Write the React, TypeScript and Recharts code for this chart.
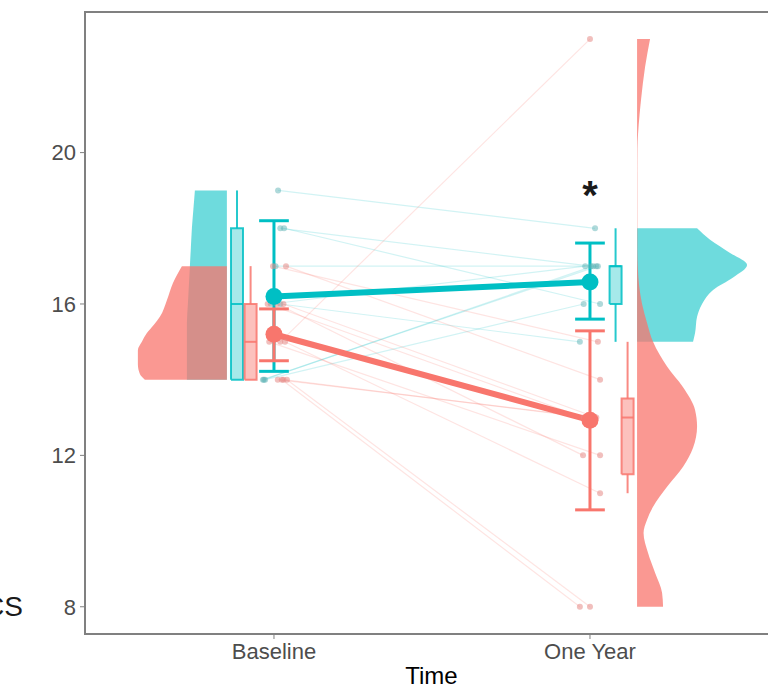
import React from "react";
import {
  ComposedChart,
  XAxis,
  YAxis,
  Area,
  Line,
  Scatter,
  ReferenceArea,
  ReferenceDot,
} from "recharts";

const FONT = "'Liberation Sans', Arial, Helvetica, sans-serif";
const TEAL = "#00BFC4";
const RED = "#F8766D";
const TEAL_DOT = "#5fb3b6";
const RED_DOT = "#e58a86";
const AXIS_GREY = "#808080";

const timeLabels = ["Baseline", "One Year"];
const timePositions = [1, 2];
const yTicks = [8, 12, 16, 20];

// individual scores (baseline -> one year), one entry per subject
const tealBaseline = [19, 18, 18, 17, 16, 16, 14, 14, 14];
const tealOneYear = [18, 16, 17, 17, 17, 15, 17, 16, 17];
const tealJitterBaseline = [0.013, 0.032, 0.02, 0.005, -0.01, 0.02, -0.035, -0.028, -0.032];
const tealJitterOneYear = [0.016, 0.032, 0.003, 0.02, -0.015, -0.032, 0.025, -0.02, 0.01];

const redBaseline = [15, 17, 17, 16, 16, 16, 15, 15, 14, 14, 14, 14];
const redOneYear = [23, 15, 14, 13, 12, 13, 12, 11, 13, 8, 8, 13];
const redJitterBaseline = [0.02, -0.003, 0.038, -0.02, 0.01, 0.03, -0.015, 0.035, 0.012, 0.025, 0.041, 0.03];
const redJitterOneYear = [0, 0.025, 0.032, -0.02, -0.022, 0.02, 0.032, 0.032, 0.01, -0.032, 0, -0.01];

// group means with error bars, [baseline, one year]
const tealMean = [16.2, 16.58];
const tealLow = [14.22, 15.6];
const tealHigh = [18.2, 17.61];
const redMean = [15.2, 12.93];
const redLow = [14.5, 10.56];
const redHigh = [15.87, 15.29];

// boxplot stats [min, q1, median, q3, max]
const tealBox = [
  [14, 14, 16, 18, 19],
  [15, 16, 17, 17, 18],
];
const redBox = [
  [14, 14, 15, 16, 17],
  [11, 11.5, 13, 13.5, 15],
];

// half-violin densities [score, density]
const tealDensityBaseline = [
  [14, 0.4], [14.5, 0.4], [15, 0.4], [15.5, 0.4], [16, 0.39], [16.5, 0.38],
  [17, 0.37], [17.5, 0.36], [18, 0.35], [18.5, 0.335], [19, 0.32],
];
const redDensityBaseline = [
  [14, 0.82], [14.15, 0.87], [14.4, 0.89], [14.78, 0.89], [15, 0.85], [15.23, 0.8],
  [15.45, 0.73], [15.66, 0.67], [16.1, 0.6], [16.55, 0.54], [17, 0.45],
];
const tealDensityOneYear = [
  [15, 0.56], [15.23, 0.58], [15.66, 0.6], [16, 0.65], [16.37, 0.76], [16.7, 0.96],
  [17.03, 1.1], [17.35, 0.93], [17.7, 0.73], [18, 0.6],
];
const redDensityOneYear = [
  [8, 0.26], [8.37, 0.25], [8.9, 0.18], [9.42, 0.11], [9.95, 0.065], [10.3, 0.1],
  [10.64, 0.16], [11.17, 0.3], [11.7, 0.46], [12.2, 0.56], [12.76, 0.6], [13.2, 0.58],
  [13.8, 0.46], [14.35, 0.3], [15, 0.16], [15.5, 0.1], [16, 0.05], [16.5, 0.02],
  [17, 0.007], [17.5, 0.003], [18.5, 0.003], [19.5, 0.003], [20.1, 0.004], [20.5, 0.01],
  [21, 0.025], [21.4, 0.04], [22.26, 0.08], [23, 0.13],
];

// layout (x units)
const X_DOMAIN: [number, number] = [0.402, 2.595];
const Y_DOMAIN: [number, number] = [7.28, 23.715];
const VIOLIN_EDGE = [0.851, 2.149];
const DENSITY_SCALE = 100 / 316;
const TEAL_BOX_X = [0.883, 2.081];
const RED_BOX_X = [0.926, 2.119];
const BOX_HALF = 0.019;
const CAP_HALF = 0.047;

type Pt = { x: number; y: number };
const seg = (x1: number, y1: number, x2: number, y2: number): Pt[] => [
  { x: x1, y: y1 },
  { x: x2, y: y2 },
];

const subjectLines = (b: number[], o: number[], jb: number[], jo: number[]) =>
  b.map((v, i) => seg(timePositions[0] + jb[i], v, timePositions[1] + jo[i], o[i]));

const subjectDots = (b: number[], o: number[], jb: number[], jo: number[]) => [
  ...b.map((v, i) => ({ x: timePositions[0] + jb[i], y: v })),
  ...o.map((v, i) => ({ x: timePositions[1] + jo[i], y: v })),
];

const violin = (density: number[][], edge: number, side: number) =>
  density.map(([y, d]) => ({
    y,
    band: side < 0 ? [edge - d * DENSITY_SCALE, edge] : [edge, edge + d * DENSITY_SCALE],
  }));

const boxFill = (s: number[], cx: number) => [
  { y: s[1], band: [cx - BOX_HALF, cx + BOX_HALF] },
  { y: s[3], band: [cx - BOX_HALF, cx + BOX_HALF] },
];

const boxLines = (s: number[], cx: number): Pt[][] => [
  [
    { x: cx - BOX_HALF, y: s[1] },
    { x: cx + BOX_HALF, y: s[1] },
    { x: cx + BOX_HALF, y: s[3] },
    { x: cx - BOX_HALF, y: s[3] },
    { x: cx - BOX_HALF, y: s[1] },
  ],
  seg(cx, s[0], cx, s[1]),
  seg(cx, s[3], cx, s[4]),
  seg(cx - BOX_HALF, s[2], cx + BOX_HALF, s[2]),
];

const errorLines = (low: number[], high: number[]): Pt[][] =>
  timePositions.flatMap((x, i) => [
    seg(x, low[i], x, high[i]),
    seg(x - CAP_HALF, low[i], x + CAP_HALF, low[i]),
    seg(x - CAP_HALF, high[i], x + CAP_HALF, high[i]),
  ]);

const meanPoints = (m: number[]) => timePositions.map((x, i) => ({ x, y: m[i] }));

const dotShape = (color: string, r: number, opacity: number) => (p: any) =>
  <circle cx={p.cx} cy={p.cy} r={r} fill={color} fillOpacity={opacity} />;

const segLine = (data: Pt[], key: string, color: string, width: number, opacity = 1) => (
  <Line
    key={key}
    data={data}
    dataKey="x"
    type="linear"
    stroke={color}
    strokeWidth={width}
    strokeOpacity={opacity}
    dot={false}
    activeDot={false}
    isAnimationActive={false}
  />
);

export default function App() {
  const tealLines = subjectLines(tealBaseline, tealOneYear, tealJitterBaseline, tealJitterOneYear);
  const redLines = subjectLines(redBaseline, redOneYear, redJitterBaseline, redJitterOneYear);

  return (
    <div
      style={{
        position: "absolute",
        left: 0,
        top: 0,
        width: 768,
        height: 689,
        overflow: "hidden",
        background: "#fff",
        fontFamily: FONT,
      }}
    >
      <ComposedChart
        width={783}
        height={689}
        layout="vertical"
        margin={{ top: 12, right: 5, bottom: 0, left: 0 }}
      >
        <XAxis
          type="number"
          dataKey="x"
          domain={X_DOMAIN}
          allowDataOverflow
          ticks={timePositions}
          tickFormatter={(v: number) => timeLabels[v - 1]}
          height={55}
          axisLine={{ stroke: AXIS_GREY, strokeWidth: 2 }}
          tickLine={{ stroke: AXIS_GREY }}
          tickSize={5}
          tickMargin={4}
          tick={{ fill: "#4d4d4d", fontSize: 22, fontFamily: FONT }}
          label={{ value: "Time", position: "insideBottom", offset: 5, fill: "#000", fontSize: 24, fontFamily: FONT }}
        />
        <YAxis
          type="number"
          dataKey="y"
          domain={Y_DOMAIN}
          allowDataOverflow
          reversed
          ticks={yTicks}
          width={85}
          axisLine={{ stroke: AXIS_GREY, strokeWidth: 2 }}
          tickLine={{ stroke: AXIS_GREY }}
          tickSize={5}
          tickMargin={4}
          tick={{ fill: "#4d4d4d", fontSize: 22, fontFamily: FONT }}
          label={{
            content: () => (
              <text x={23} y={616} textAnchor="end" fontSize={28} fill="#1a1a1a" fontFamily={FONT}>
                CS
              </text>
            ),
          }}
        />
        <ReferenceArea
          x1={X_DOMAIN[0]}
          x2={X_DOMAIN[1]}
          y1={Y_DOMAIN[0]}
          y2={Y_DOMAIN[1]}
          fill="none"
          fillOpacity={0}
          stroke={AXIS_GREY}
          strokeWidth={2}
          strokeOpacity={1}
          ifOverflow="visible"
        />

        {/* spaghetti */}
        {tealLines.map((d, i) => segLine(d, `tl${i}`, TEAL, 1.2, 0.18))}
        {redLines.map((d, i) => segLine(d, `rl${i}`, RED, 1.2, 0.2))}

        <Scatter
          data={subjectDots(tealBaseline, tealOneYear, tealJitterBaseline, tealJitterOneYear)}
          shape={dotShape(TEAL_DOT, 3, 0.5)}
          isAnimationActive={false}
        />
        <Scatter
          data={subjectDots(redBaseline, redOneYear, redJitterBaseline, redJitterOneYear)}
          shape={dotShape(RED_DOT, 3, 0.55)}
          isAnimationActive={false}
        />

        {/* half violins */}
        <Area data={violin(tealDensityBaseline, VIOLIN_EDGE[0], -1)} dataKey="band" type="monotone" fill={TEAL} fillOpacity={0.57} stroke="none" isAnimationActive={false} />
        <Area data={violin(tealDensityOneYear, VIOLIN_EDGE[1], 1)} dataKey="band" type="monotone" fill={TEAL} fillOpacity={0.57} stroke="none" isAnimationActive={false} />
        <Area data={violin(redDensityBaseline, VIOLIN_EDGE[0], -1)} dataKey="band" type="monotone" fill={RED} fillOpacity={0.75} stroke="none" isAnimationActive={false} />
        <Area data={violin(redDensityOneYear, VIOLIN_EDGE[1], 1)} dataKey="band" type="monotone" fill={RED} fillOpacity={0.75} stroke="none" isAnimationActive={false} />

        {/* boxplots */}
        {tealBox.map((s, i) => (
          <Area key={`tb${i}`} data={boxFill(s, TEAL_BOX_X[i])} dataKey="band" type="linear" fill={TEAL} fillOpacity={0.35} stroke="none" isAnimationActive={false} />
        ))}
        {redBox.map((s, i) => (
          <Area key={`rb${i}`} data={boxFill(s, RED_BOX_X[i])} dataKey="band" type="linear" fill={RED} fillOpacity={0.45} stroke="none" isAnimationActive={false} />
        ))}
        {tealBox.flatMap((s, i) => boxLines(s, TEAL_BOX_X[i]).map((d, j) => segLine(d, `tbl${i}-${j}`, TEAL, 2, 0.85)))}
        {redBox.flatMap((s, i) => boxLines(s, RED_BOX_X[i]).map((d, j) => segLine(d, `rbl${i}-${j}`, RED, 2, 0.85)))}

        {/* means with error bars */}
        {errorLines(tealLow, tealHigh).map((d, i) => segLine(d, `te${i}`, TEAL, 3))}
        {errorLines(redLow, redHigh).map((d, i) => segLine(d, `re${i}`, RED, 3))}
        {segLine(meanPoints(tealMean), "tm", TEAL, 6)}
        {segLine(meanPoints(redMean), "rm", RED, 6)}
        <Scatter data={meanPoints(tealMean)} shape={dotShape(TEAL, 8.5, 1)} isAnimationActive={false} />
        <Scatter data={meanPoints(redMean)} shape={dotShape(RED, 8.5, 1)} isAnimationActive={false} />

        <ReferenceDot
          x={2}
          y={19}
          ifOverflow="visible"
          shape={(p: any) => (
            <text x={p.cx} y={p.cy + 19} textAnchor="middle" fontSize={40} fontWeight="bold" fill="#1a1a1a" fontFamily={FONT}>
              *
            </text>
          )}
        />
      </ComposedChart>
    </div>
  );
}
